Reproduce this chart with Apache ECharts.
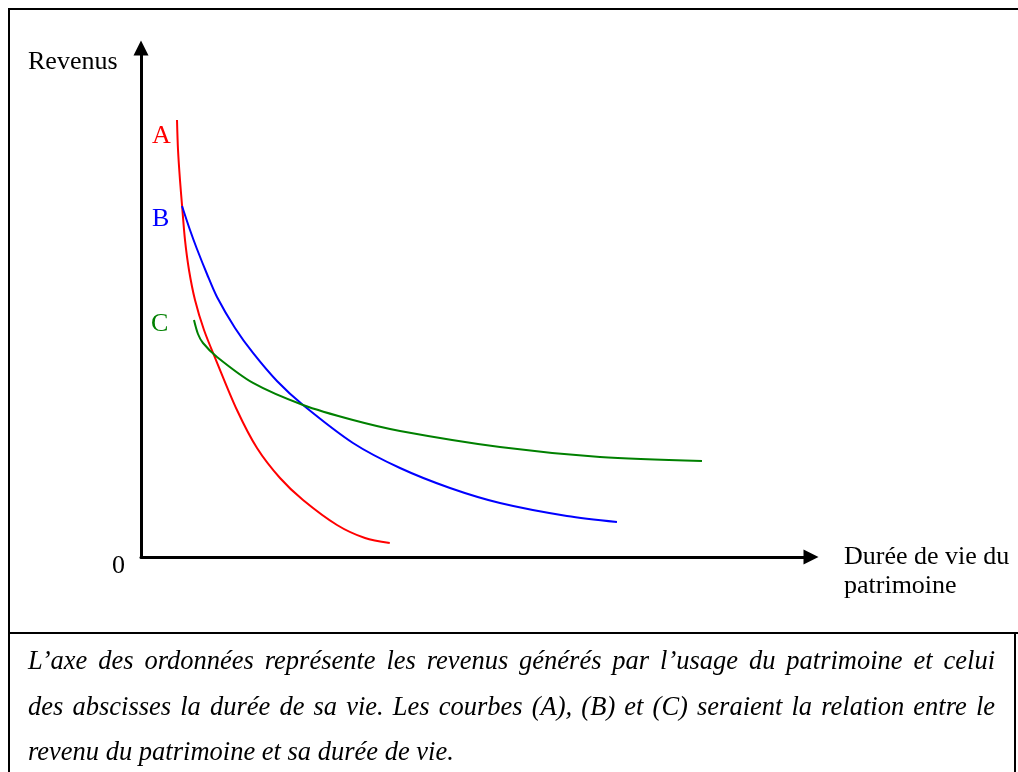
<!DOCTYPE html>
<html>
<head>
<meta charset="utf-8">
<script src="https://cdn.jsdelivr.net/npm/echarts@6.0.0/dist/echarts.min.js"></script>
<style>
    html, body {margin: 0; padding: 0; background: #fff;}
    #chart {width: 1018px; height: 772px;}
</style>
</head>
<body>
<div id="chart"></div>
<script>
    // courbes (unités arbitraires, 0-100)
    const curveA = [[5.32, 84.48], [5.47, 78.68], [5.76, 72.88], [6.06, 68.05], [6.5, 61.29], [7.09, 55.49],
        [7.98, 49.69], [9.31, 43.88], [11.08, 38.08], [14.18, 28.42], [17.14, 21.07], [20.54, 15.27],
        [23.94, 11.02], [28.96, 6.19], [33.1, 3.67], [36.76, 2.71]]
    const curveB = [[6.06, 67.85], [7.24, 63.21], [8.27, 59.54], [9.75, 54.71], [11.23, 50.26], [13.89, 44.27],
        [16.55, 39.44], [20.09, 34.02], [23.94, 29.38], [31.32, 22.04], [38.27, 17.2], [45.66, 13.34],
        [53.04, 10.44], [62.94, 7.93], [70.33, 6.77]]
    const curveC = [[7.83, 45.81], [8.42, 43.11], [9.16, 41.37], [11.23, 38.66], [16.55, 33.64], [23.94, 29.38],
        [31.32, 26.48], [38.27, 24.36], [53.04, 21.26], [67.82, 19.33], [82.89, 18.56]]
    const curveNames = ['A', 'B', 'C']
    const yAxisName = 'Revenus'
    const xAxisName = ['Durée de vie du', 'patrimoine']
    const originLabel = '0'
    const captionLines = [
        'L’axe des ordonnées représente les revenus générés par l’usage du patrimoine et celui',
        'des abscisses la durée de sa vie. Les courbes (A), (B) et (C) seraient la relation entre le',
        'revenu du patrimoine et sa durée de vie.'
    ]

    const serif = '"Liberation Serif", "Times New Roman", serif'
    const colors = ['#ff0000', '#0000ff', '#008000']

    // texte placé sur sa ligne de base
    function textAt(text, x, baseline, size, fill, italic) {
        const font = (italic ? 'italic ' : '') + size + 'px ' + serif
        return {
            type: 'text', x: x, y: baseline - size * 0.22, silent: true,
            style: {text: text, font: font, fill: fill || '#000', verticalAlign: 'middle', align: 'left'}
        }
    }

    // ligne de légende justifiée mot par mot
    const measureCtx = document.createElement('canvas').getContext('2d')
    function captionLine(line, baseline, left, right, size, justify) {
        const font = 'italic ' + size + 'px ' + serif
        measureCtx.font = font
        const words = line.split(' ')
        const widths = words.map(w => measureCtx.measureText(w).width)
        const total = widths.reduce((a, b) => a + b, 0)
        const gap = justify ? (right - left - total) / (words.length - 1) : measureCtx.measureText(' ').width
        let x = left
        return words.map((w, i) => {
            const el = textAt(w, x, baseline, size, '#000', true)
            x += widths[i] + gap
            return el
        })
    }

    const chart = echarts.init(document.getElementById('chart'), null, {renderer: 'canvas'})

    const hiddenAxis = {
        type: 'value', min: 0,
        axisLabel: {show: false}, axisTick: {show: false}, splitLine: {show: false},
        axisLine: {show: true, symbol: ['none', 'triangle'], symbolSize: [15, 15], lineStyle: {color: '#000', width: 3}}
    }

    const captionSize = 26.5
    const graphics = [
        // cadres
        {type: 'rect', shape: {x: 9, y: 9, width: 1030, height: 624}, style: {fill: 'none', stroke: '#000', lineWidth: 2}, silent: true},
        {type: 'rect', shape: {x: 9, y: 633, width: 1006, height: 160}, style: {fill: 'none', stroke: '#000', lineWidth: 2}, silent: true},
        textAt(yAxisName, 28, 68, 26),
        textAt(originLabel, 112, 572, 26),
        textAt(xAxisName[0], 844, 563, 26),
        textAt(xAxisName[1], 844, 592, 26),
        textAt(curveNames[0], 152, 142, 26, colors[0]),
        textAt(curveNames[1], 152, 225, 26, colors[1]),
        textAt(curveNames[2], 151, 330, 26, colors[2])
    ].concat(
        captionLine(captionLines[0], 668, 28, 995, captionSize, true),
        captionLine(captionLines[1], 714, 28, 995, captionSize, true),
        captionLine(captionLines[2], 759, 28, 995, captionSize, false)
    )

    const option = {
        animation: false,
        backgroundColor: '#fff',
        grid: {left: 141, right: 207, top: 48, bottom: 215},
        xAxis: Object.assign({}, hiddenAxis, {max: 99}),
        yAxis: Object.assign({}, hiddenAxis, {max: 98.4}),
        series: [curveA, curveB, curveC].map((data, i) => ({
            name: curveNames[i],
            type: 'line',
            data: data,
            smooth: 0.3,
            showSymbol: false,
            lineStyle: {color: colors[i], width: 2}
        })),
        graphic: graphics
    }
    chart.setOption(option)
</script>
</body>
</html>
